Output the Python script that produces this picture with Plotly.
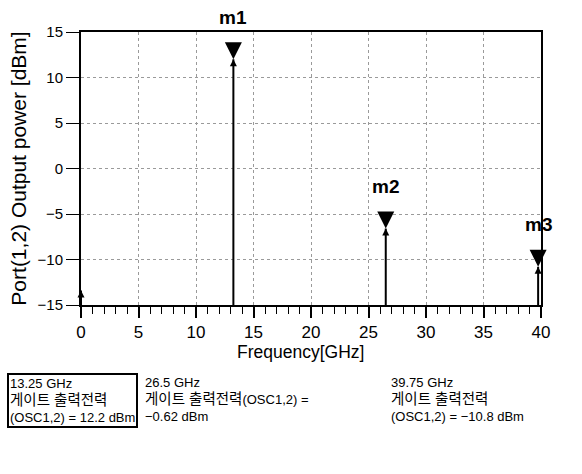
import plotly.graph_objects as go

# ---- data ----
marker_names = ["m1", "m2", "m3"]
marker_freq = [13.25, 26.5, 39.75]          # GHz
marker_power = [12.0, -6.6, -10.8]          # dBm (stem tips as drawn)
dc_freq = [0.0]
dc_power = [-13.4]
x_ticks = [0, 5, 10, 15, 20, 25, 30, 35, 40]
y_ticks = [-15, -10, -5, 0, 5, 10, 15]
KO = '<span style="font-size:14.5px">%s</span>'
box_texts = [
    "13.25 GHz<br>" + KO % "게이트 출력전력" + "<br>(OSC1,2) = 12.2 dBm",
    "26.5 GHz<br>" + KO % "게이트 출력전력" + "(OSC1,2) =<br>−0.62 dBm",
    "39.75 GHz<br>" + KO % "게이트 출력전력" + "<br>(OSC1,2) = −10.8 dBm",
]

W, H = 582, 474
L, R, T, B = 81, 41, 32, 169
PW, PH = W - L - R, H - T - B
YMIN, YMAX = -15, 15

def px(xpix):
    return (xpix - L) / PW

def py(ypix):
    return (H - B - ypix) / PH

FONT = "Liberation Sans, Arial, Noto Sans CJK KR"
KFONT = "Liberation Sans, Noto Sans CJK KR"

fig = go.Figure()

# stems
all_x = dc_freq + marker_freq
all_y = dc_power + marker_power
sx, sy = [], []
for xv, yv in zip(all_x, all_y):
    sx += [xv, xv, None]
    sy += [YMIN, yv, None]
fig.add_trace(go.Scatter(x=sx, y=sy, mode="lines",
                         line=dict(color="black", width=2), hoverinfo="skip"))
# small up arrows at tips
fig.add_trace(go.Scatter(x=all_x, y=all_y, mode="markers",
                         marker=dict(symbol="arrow-up", size=7, color="black"),
                         cliponaxis=False))
# big down-pointing marker triangles
fig.add_trace(go.Scatter(x=marker_freq, y=marker_power, mode="markers",
                         marker=dict(symbol="arrow-down", size=17, color="black"),
                         cliponaxis=False))

for name, xv, yv in zip(marker_names, marker_freq, marker_power):
    fig.add_annotation(x=xv, y=yv, text="<b>%s</b>" % name, showarrow=False,
                       yshift=42, font=dict(family=FONT, size=19, color="black"),
                       xanchor="center", yanchor="middle")

fig.add_annotation(xref="paper", yref="paper", x=px(300), y=py(352),
                   text="Frequency[GHz]", showarrow=False,
                   font=dict(family=FONT, size=17.5, color="black"),
                   xanchor="center", yanchor="middle")

box_x = [7, 143, 389]
for i, (t, bx) in enumerate(zip(box_texts, box_x)):
    kw = {}
    if i == 0:
        kw = dict(bordercolor="black", borderwidth=2, borderpad=1)
    fig.add_annotation(xref="paper", yref="paper", x=px(bx), y=py(373),
                       text=t, showarrow=False, align="left",
                       xanchor="left", yanchor="top",
                       font=dict(family=KFONT, size=13, color="black"), **kw)

fig.update_layout(
    width=W, height=H,
    margin=dict(l=L, r=R, t=T, b=B, pad=0),
    paper_bgcolor="white", plot_bgcolor="white",
    showlegend=False,
    font=dict(family=FONT, color="black"),
)
fig.update_xaxes(range=[0, 40], tickvals=x_ticks, ticks="outside", ticklen=11,
                 tickwidth=1.5, tickcolor="black", showline=True, linecolor="black",
                 linewidth=2, mirror=True, showgrid=True, gridcolor="#9a9a9a",
                 griddash="dot", gridwidth=1, zeroline=False,
                 tickfont=dict(family=FONT, size=17),
                 minor=dict(dtick=1, ticks="outside", ticklen=7, tickcolor="black",
                            tickwidth=1, showgrid=False))
fig.update_yaxes(range=[YMIN, YMAX], tickvals=y_ticks, ticks="outside", ticklen=13,
                 tickwidth=1, tickcolor="black", showline=True, linecolor="black",
                 linewidth=2, mirror=True, showgrid=True, gridcolor="#9a9a9a",
                 griddash="dot", gridwidth=1, zeroline=False,
                 tickfont=dict(family=FONT, size=15),
                 title=dict(text="Port(1,2) Output power [dBm]",
                            font=dict(family=FONT, size=21), standoff=5))

fig.write_html("out.html")
